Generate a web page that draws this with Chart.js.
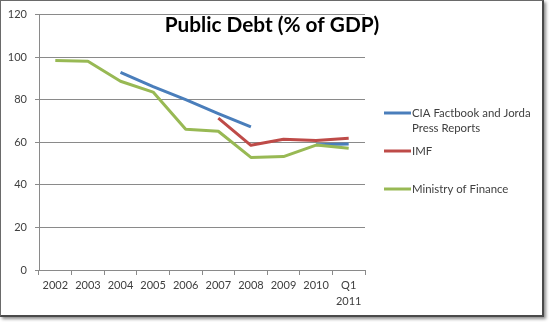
<!DOCTYPE html>
<html>
<head>
<meta charset="utf-8">
<script src="https://cdn.jsdelivr.net/npm/chart.js@4.4.0/dist/chart.umd.min.js"></script>
<style>
  html, body { margin: 0; padding: 0; background: #ffffff; }
  #wrap { position: relative; width: 549px; height: 322px; overflow: hidden; }
  #frame { position: absolute; left: 0; top: 0; width: 541px; height: 314px;
           border: 1px solid #6a6a6a; border-right: 2px solid #4a4a4a; border-bottom: 2px solid #4a4a4a;
           box-shadow: 2px 2px 3px rgba(0,0,0,0.45); background: #fff; }
  #c { position: absolute; left: 0; top: 0; }
</style>
</head>
<body>
<div id="wrap">
  <div id="frame"></div>
  <canvas id="c" width="549" height="322"></canvas>
</div>
<script>
// ---- data ----
const categories = ['2002', '2003', '2004', '2005', '2006', '2007', '2008', '2009', '2010', ['Q1', '2011']];
const ciaValues = [null, null, 92.8, 86.2, 80.0, 73.5, 67.2, null, 58.9, 59.2];
const imfValues = [null, null, null, null, null, 71.4, 58.6, 61.4, 60.8, 61.9];
const mofValues = [98.4, 98.1, 88.7, 83.6, 66.1, 65.2, 52.9, 53.3, 58.7, 57.2];
const seriesLabels = [['CIA Factbook and Jorda', 'Press Reports'], ['IMF'], ['Ministry of Finance']];
const yTicks = [0, 20, 40, 60, 80, 100, 120];
const chartTitle = 'Public Debt (% of GDP)';

const FONT = 'Lato, Carlito, "Open Sans", sans-serif';

const titlePlugin = {
  id: 'excelTitle',
  afterDraw(chart) {
    const ctx = chart.ctx;
    ctx.save();
    ctx.font = 'bold 20.8px ' + FONT;
    ctx.fillStyle = '#000000';
    ctx.textAlign = 'center';
    ctx.textBaseline = 'alphabetic';
    ctx.fillText(chartTitle, 272, 32);
    ctx.restore();
  }
};

const legendPlugin = {
  id: 'excelLegend',
  afterDraw(chart) {
    const ctx = chart.ctx;
    const x0 = 384, x1 = 411, tx = 412, yStart = 113, step = 38, lineGap = 15;
    ctx.save();
    ctx.font = '11.4px ' + FONT;
    ctx.textBaseline = 'middle';
    ctx.textAlign = 'left';
    chart.data.datasets.forEach((ds, i) => {
      const y = yStart + i * step;
      ctx.strokeStyle = ds.borderColor;
      ctx.lineWidth = 3;
      ctx.beginPath();
      ctx.moveTo(x0, y);
      ctx.lineTo(x1, y);
      ctx.stroke();
      ctx.fillStyle = '#404040';
      const lines = Array.isArray(ds.label) ? ds.label : [ds.label];
      lines.forEach((t, j) => ctx.fillText(t, tx, y + j * lineGap));
    });
    ctx.restore();
  }
};

new Chart(document.getElementById('c'), {
  type: 'line',
  data: {
    labels: categories,
    datasets: [
      { label: seriesLabels[0], data: ciaValues, borderColor: '#4A7EBB', order: 3 },
      { label: seriesLabels[1], data: imfValues, borderColor: '#BE4B48', order: 2 },
      { label: seriesLabels[2], data: mofValues, borderColor: '#98B954', order: 1 }
    ]
  },
  options: {
    responsive: false,
    animation: false,
    devicePixelRatio: 1,
    spanGaps: false,
    elements: {
      line: { borderWidth: 3, tension: 0, fill: false, borderCapStyle: 'butt', borderJoinStyle: 'round' },
      point: { radius: 0, hoverRadius: 0 }
    },
    layout: { padding: { left: 0, right: 184, top: 14, bottom: 12 } },
    plugins: {
      legend: { display: false },
      title: { display: false },
      tooltip: { enabled: false }
    },
    scales: {
      x: {
        type: 'category',
        offset: true,
        grid: { display: true, drawOnChartArea: false, drawTicks: true, tickLength: 5, offset: true, color: '#8a8a8a' },
        border: { display: true, color: '#8a8a8a', width: 1 },
        ticks: { color: '#404040', font: { family: FONT, size: 11, lineHeight: 1.4 }, padding: 3, maxRotation: 0, autoSkip: false },
        afterFit(scale) { scale.height = 40; }
      },
      y: {
        min: 0, max: 120,
        afterBuildTicks(scale) { scale.ticks = yTicks.map(v => ({ value: v })); },
        grid: { color: '#8a8a8a', lineWidth: 1, drawTicks: true, tickLength: 4 },
        border: { display: true, color: '#8a8a8a', width: 1 },
        ticks: { color: '#404040', font: { family: FONT, size: 11 }, padding: 8 },
        afterFit(scale) { scale.width = 39; }
      }
    }
  },
  plugins: [titlePlugin, legendPlugin]
});
</script>
</body>
</html>
